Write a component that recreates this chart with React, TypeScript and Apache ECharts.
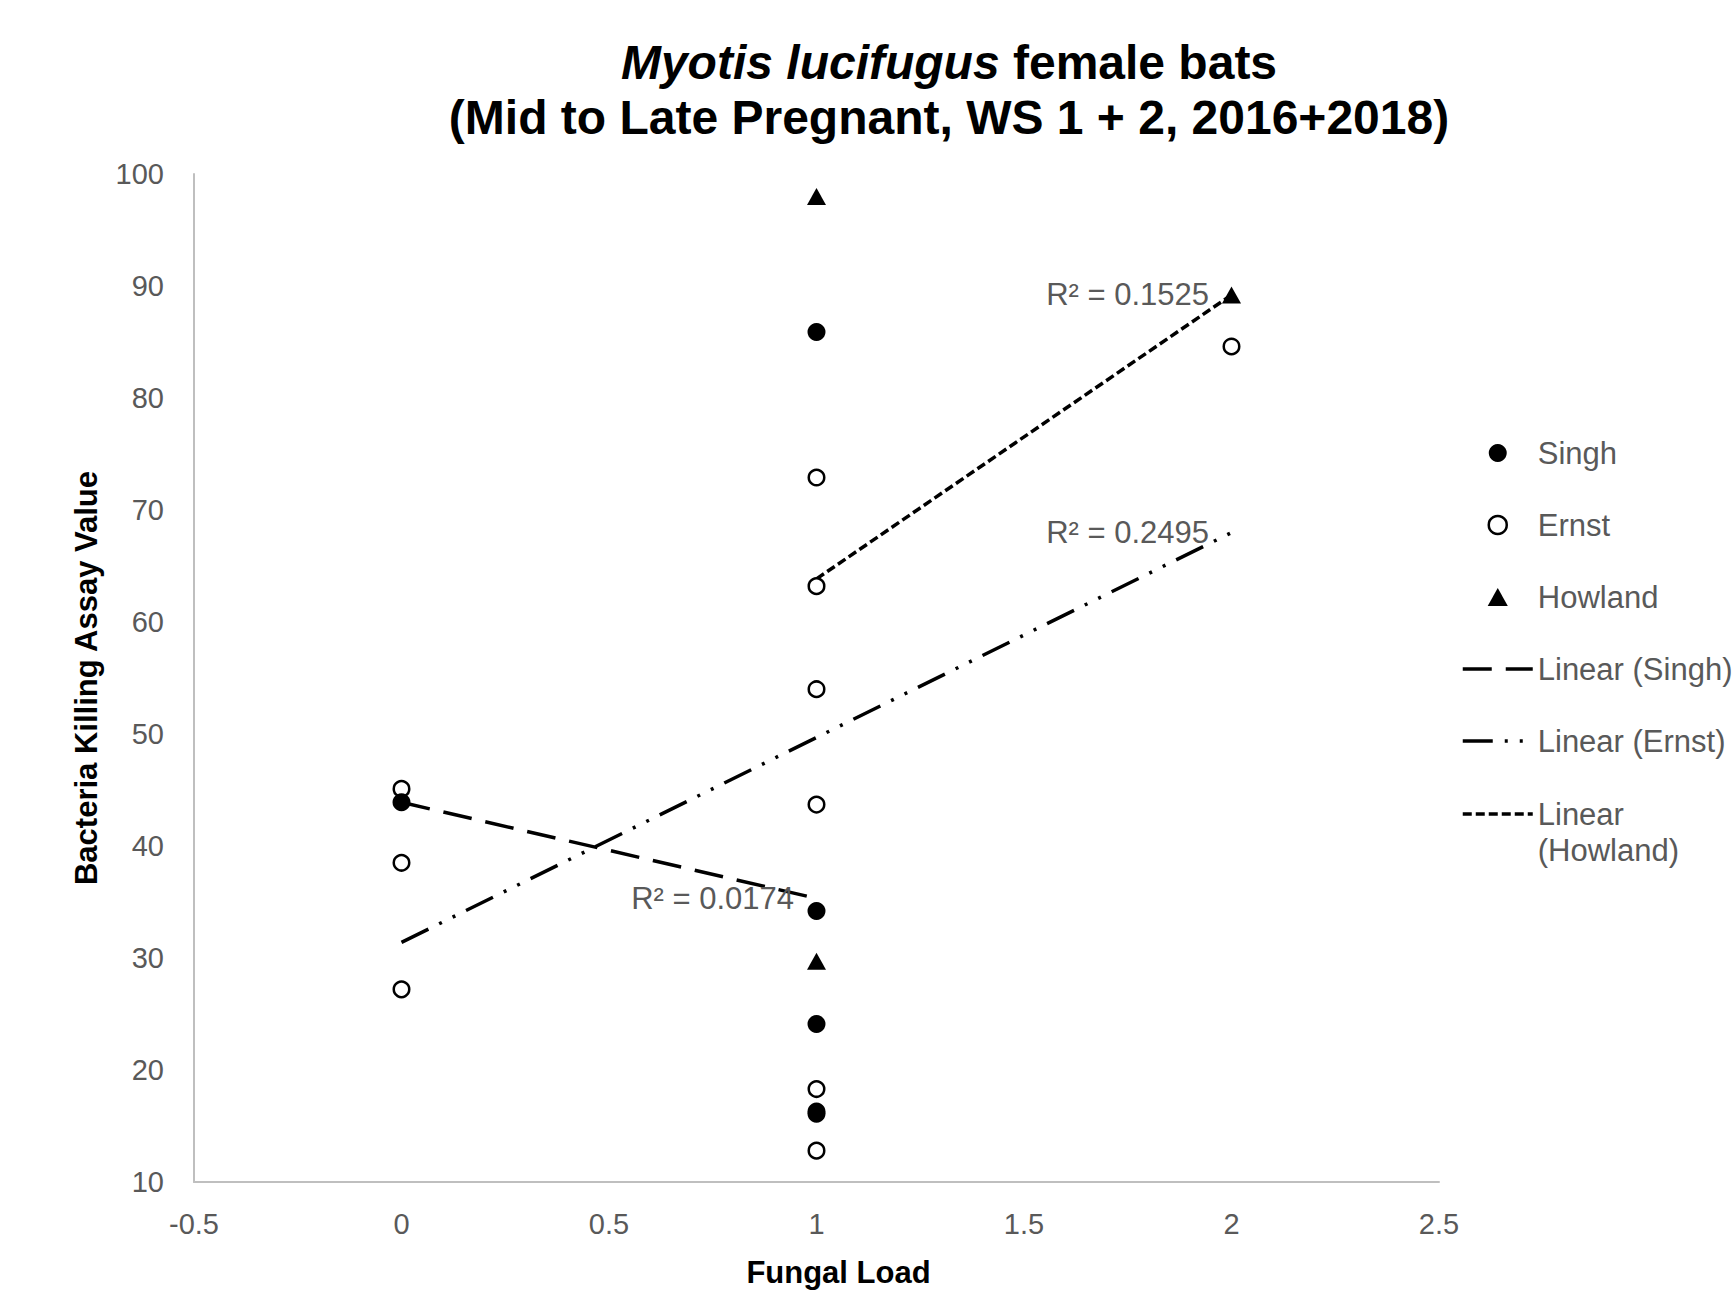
import React, { useEffect, useRef } from "react";
import * as echarts from "echarts";

const FONT = "'Liberation Sans', Arial, Helvetica, sans-serif";
const TEXT_GRAY = "#595959";
const AXIS_GRAY = "#BFBFBF";

// Axis ranges / ticks
const X_MIN = -0.5;
const X_MAX = 2.5;
const X_INTERVAL = 0.5;
const Y_MIN = 10;
const Y_MAX = 100;
const Y_INTERVAL = 10;

// Data
const singhX = [0, 1, 1, 1, 1, 1];
const singhY = [43.9, 85.9, 34.2, 24.1, 16.3, 16.1];
const ernstX = [0, 0, 0, 1, 1, 1, 1, 1, 1, 2];
const ernstY = [45.1, 38.5, 27.2, 72.9, 63.2, 54.0, 43.7, 18.3, 12.8, 84.6];
const howlandX = [1, 1, 2];
const howlandY = [98.0, 29.7, 89.2];

const seriesNames = ["Singh", "Ernst", "Howland"];
const trendNames = ["Linear (Singh)", "Linear (Ernst)", "Linear (Howland)"];
const r2Labels = ["R² = 0.0174", "R² = 0.2495", "R² = 0.1525"];

const titleLine1Italic = "Myotis lucifugus";
const titleLine1Rest = " female bats";
const titleLine2 = "(Mid to Late Pregnant, WS 1 + 2, 2016+2018)";
const xAxisName = "Fungal Load";
const yAxisName = "Bacteria Killing Assay Value";

function pairs(xs: number[], ys: number[]) {
  return xs.map((x, i) => [x, ys[i]]);
}

// Least-squares linear trendline (like Excel's "Linear" trendline), spanning data x-range
function linearTrend(xs: number[], ys: number[]) {
  const n = xs.length;
  const mx = xs.reduce((a, b) => a + b, 0) / n;
  const my = ys.reduce((a, b) => a + b, 0) / n;
  let sxx = 0;
  let sxy = 0;
  for (let i = 0; i < n; i++) {
    sxx += (xs[i] - mx) * (xs[i] - mx);
    sxy += (xs[i] - mx) * (ys[i] - my);
  }
  const slope = sxy / sxx;
  const intercept = my - slope * mx;
  const x0 = Math.min(...xs);
  const x1 = Math.max(...xs);
  return [
    [x0, intercept + slope * x0],
    [x1, intercept + slope * x1],
  ];
}

export default function App() {
  const ref = useRef<HTMLDivElement>(null);

  useEffect(() => {
    if (!ref.current) return;
    const chart = echarts.init(ref.current, undefined, { renderer: "svg" });

    const scatterData = [pairs(singhX, singhY), pairs(ernstX, ernstY), pairs(howlandX, howlandY)];
    const trends = [
      linearTrend(singhX, singhY),
      linearTrend(ernstX, ernstY),
      linearTrend(howlandX, howlandY),
    ];
    const dashes = [
      [29, 14],
      [30, 12, 3, 12, 3, 12],
      [9, 4],
    ];

    const scatterStyles: any[] = [
      { symbol: "circle", symbolSize: 18, itemStyle: { color: "#000", opacity: 1 }, z: 5 },
      {
        symbol: "circle",
        symbolSize: 15.5,
        itemStyle: { color: "#fff", borderColor: "#000", borderWidth: 2.5, opacity: 1 },
        z: 4,
      },
      { symbol: "triangle", symbolSize: [19, 17], itemStyle: { color: "#000", opacity: 1 }, z: 4 },
    ];

    const series: any[] = [];
    seriesNames.forEach((name, i) => {
      series.push({
        name,
        type: "scatter",
        data: scatterData[i],
        ...scatterStyles[i],
      });
    });
    trendNames.forEach((name, i) => {
      series.push({
        name,
        type: "line",
        data: trends[i],
        symbol: "none",
        z: 3,
        lineStyle: { color: "#000", width: 3.5, type: dashes[i], cap: "butt" },
        itemStyle: { color: "rgba(0,0,0,0)", borderWidth: 0 },
        markPoint: {
          silent: true,
          symbol: "circle",
          symbolSize: 1,
          itemStyle: { color: "rgba(0,0,0,0)" },
          label: {
            show: true,
            position: "left",
            distance: 22,
            color: TEXT_GRAY,
            fontSize: 31,
            fontFamily: FONT,
            formatter: r2Labels[i],
          },
          data: [{ coord: trends[i][1] }],
        },
      });
    });

    const legendCommon = {
      orient: "vertical",
      left: 1461,
      padding: 0,
      itemWidth: 70,
      itemHeight: 18,
      itemGap: 36,
      selectedMode: false,
      textStyle: { color: TEXT_GRAY, fontSize: 31, fontFamily: FONT, lineHeight: 36 },
      lineStyle: { width: 3.5 },
    };

    chart.setOption({
      animation: false,
      backgroundColor: "#fff",
      title: {
        text: `{i|${titleLine1Italic}}${titleLine1Rest}\n${titleLine2}`,
        left: 949,
        top: 35,
        textAlign: "center",
        padding: 0,
        textStyle: {
          fontFamily: FONT,
          fontSize: 48,
          fontWeight: "bold",
          color: "#000",
          lineHeight: 55,
          rich: {
            i: {
              fontFamily: FONT,
              fontSize: 48,
              fontWeight: "bold",
              fontStyle: "italic",
              color: "#000",
              lineHeight: 55,
            },
          },
        },
      },
      legend: [
        {
          ...legendCommon,
          top: 435,
          data: [
            "Singh",
            { name: "Ernst", itemStyle: { color: "#fff", borderColor: "#000", borderWidth: 2.5 } },
            { name: "Howland", icon: "path://M0,17 L9.5,0 L19,17 Z" },
            trendNames[0],
            trendNames[1],
          ],
        },
        {
          ...legendCommon,
          top: 760,
          data: [trendNames[2]],
          formatter: () => "\nLinear\n(Howland)",
        },
      ],
      grid: { left: 194, right: 297, top: 174, bottom: 101, containLabel: false },
      xAxis: {
        type: "value",
        min: X_MIN,
        max: X_MAX,
        interval: X_INTERVAL,
        splitLine: { show: false },
        axisTick: { show: false },
        axisLine: { show: true, onZero: false, lineStyle: { color: AXIS_GRAY, width: 2 } },
        axisLabel: { color: TEXT_GRAY, fontSize: 29, fontFamily: FONT, margin: 27 },
        name: xAxisName,
        nameLocation: "middle",
        nameGap: 75,
        nameTextStyle: {
          fontFamily: FONT,
          fontSize: 31,
          fontWeight: "bold",
          color: "#000",
          padding: [0, 0, 0, 44],
        },
      },
      yAxis: {
        type: "value",
        min: Y_MIN,
        max: Y_MAX,
        interval: Y_INTERVAL,
        splitLine: { show: false },
        axisTick: { show: false },
        axisLine: { show: true, onZero: false, lineStyle: { color: AXIS_GRAY, width: 2 } },
        axisLabel: { color: TEXT_GRAY, fontSize: 29, fontFamily: FONT, margin: 30 },
        name: yAxisName,
        nameLocation: "middle",
        nameGap: 92,
        nameTextStyle: { fontFamily: FONT, fontSize: 31, fontWeight: "bold", color: "#000" },
      },
      series,
    });

    return () => chart.dispose();
  }, []);

  return (
    <div
      ref={ref}
      style={{ position: "fixed", left: 0, top: 0, width: 1736, height: 1293, background: "#fff" }}
    />
  );
}
